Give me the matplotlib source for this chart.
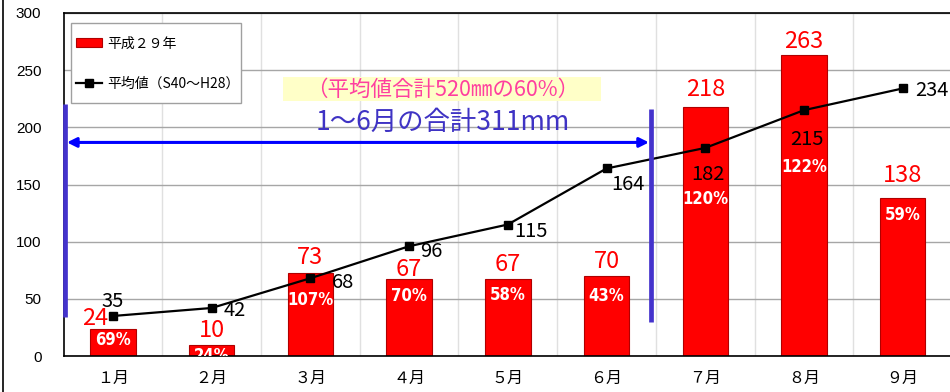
import matplotlib
matplotlib.use("Agg")
import matplotlib.pyplot as plt
from matplotlib import font_manager
from matplotlib.font_manager import FontProperties
from matplotlib.patches import Rectangle
from matplotlib.lines import Line2D
from matplotlib.legend_handler import HandlerPatch
import numpy as np

# ---- data -------------------------------------------------------------
months = ["１月", "２月", "３月", "４月", "５月", "６月", "７月", "８月", "９月"]
rain_h29 = [24, 10, 73, 67, 67, 70, 218, 263, 138]          # 平成29年 (mm)
rain_avg = [35, 42, 68, 96, 115, 164, 182, 215, 234]        # 平均値 S40～H28 (mm)
ratio_labels = ["69%", "24%", "107%", "70%", "58%", "43%", "120%", "122%", "59%"]
yticks = [0, 50, 100, 150, 200, 250, 300]

legend_bar = "平成２９年"
legend_line = "平均値（S40～H28）"
note_total = "1～6月の合計311mm"
note_ratio = "（平均値合計520㎜の60%）"

# ---- label placement (data units) -------------------------------------
bar_label_dx = [-0.18, 0, 0, 0, 0, 0, 0, 0, 0]
bar_label_y = [33, 22, 86, 76, 80, 83, 233, 275, 158]
avg_label_dx = [0.0, 0.23, 0.33, 0.23, 0.23, 0.22, 0.03, 0.03, 0.30]
avg_label_y = [48, 40, 64, 91, 109, 150, 159, 189, 232]
ratio_label_y = [13.6, 0.3, 48.7, 52.2, 53.0, 52.2, 137.3, 165.4, 123.2]

# ---- fonts ------------------------------------------------------------
CJK = ["Noto Sans CJK JP", "DejaVu Sans"]
NUM = ["Liberation Sans", "DejaVu Sans"]
plt.rcParams["font.family"] = CJK


def narrow_bold_font(size):
    """Pick a condensed bold face if one is installed, else a plain bold."""
    best = None
    for f in font_manager.fontManager.ttflist:
        name = f.name.lower()
        stretch = str(f.stretch).lower()
        narrow = ("narrow" in name or "condensed" in name or "condensed" in stretch
                  or "narrow" in f.fname.lower() or "condensed" in f.fname.lower())
        if not narrow:
            continue
        w = f.weight if isinstance(f.weight, int) else (700 if "bold" in str(f.weight) else 400)
        if f.style != "normal":
            continue
        score = abs(w - 700)
        if best is None or score < best[0]:
            best = (score, f.fname)
    if best is not None:
        return FontProperties(fname=best[1], size=size)
    return FontProperties(family=NUM, weight="bold", size=size - 2.5)


RATIO_FONT = narrow_bold_font(12)

RED = "#FF0000"
BLUE_BAR = "#4433CC"
BLUE_ARROW = "#0000FF"
TEXT_BLUE = "#3F33C4"
PINK = "#FF3F9F"

W, H = 950, 392
fig = plt.figure(figsize=(W / 100, H / 100), dpi=100)
ax = fig.add_axes([63.6 / W, 36 / H, 888.4 / W, 343 / H])

x = np.arange(len(months))
bars = ax.bar(x, rain_h29, width=0.46, color=RED, edgecolor="#B00000",
              linewidth=0.8, zorder=2, label=legend_bar)
line, = ax.plot(x, rain_avg, color="black", lw=1.6, marker="s", markersize=6,
                zorder=4, label=legend_line)

ax.set_xlim(-0.5, 8.5)
ax.set_ylim(0, 300)
ax.set_yticks(yticks)
ax.set_yticklabels([str(v) for v in yticks], family=NUM, fontsize=11)
ax.set_xticks(x)
ax.set_xticklabels(months, fontsize=11.5)
ax.set_xticks(np.arange(0.5, len(months) - 0.5, 1), minor=True)
ax.tick_params(which="both", length=0)
ax.tick_params(axis="y", pad=16)
ax.tick_params(axis="x", pad=10)
ax.yaxis.grid(True, color="#A6A6A6", lw=1)
ax.xaxis.grid(True, which="minor", color="#E0E0E0", lw=1)
ax.xaxis.grid(False, which="major")
ax.set_axisbelow(True)
for side in ("left", "bottom", "top"):
    ax.spines[side].set_color("black")
    ax.spines[side].set_linewidth(1.2)
ax.spines["right"].set_visible(False)

# value labels
for i in range(len(months)):
    ax.text(x[i] + bar_label_dx[i], bar_label_y[i], str(rain_h29[i]),
            color=RED, fontsize=17, ha="center", va="center", zorder=6)
    ax.text(x[i] + avg_label_dx[i], avg_label_y[i], str(rain_avg[i]),
            color="black", fontsize=14.5, ha="center", va="center", zorder=6)
    ax.text(x[i], ratio_label_y[i], ratio_labels[i], color="white",
            fontproperties=RATIO_FONT, ha="center", va="center",
            zorder=6, clip_on=True)

# 1～6月 range markers
ax.plot([-0.481, -0.481], [34.2, 220.2], color=BLUE_BAR, lw=3.4,
        solid_capstyle="butt", zorder=5, clip_on=False)
ax.plot([5.448, 5.448], [29.8, 215.8], color=BLUE_BAR, lw=3.4,
        solid_capstyle="butt", zorder=5, clip_on=False)
ax.annotate("", xy=(-0.466, 186.8), xytext=(5.43, 186.8),
            arrowprops=dict(arrowstyle="<|-|>", color=BLUE_ARROW, lw=2.2,
                            mutation_scale=14, shrinkA=0, shrinkB=0),
            zorder=5)
ax.text(3.337, 204, note_total, color=TEXT_BLUE, fontsize=19,
        ha="center", va="center", zorder=6)
ax.add_patch(Rectangle((1.722, 222.8), 3.22, 21.1, facecolor="#FFFFC8",
                       edgecolor="none", zorder=3))
ax.text(3.335, 232.8, note_ratio, color=PINK, fontsize=15.5,
        ha="center", va="center", zorder=6)


# legend
def thin_patch(legend, orig_handle, xdescent, ydescent, width, height, fontsize):
    return Rectangle((-xdescent, -ydescent + height * 0.22), width, height * 0.56)


ax.add_patch(Rectangle((0.0083, 0.738), 0.1915, 0.233, transform=ax.transAxes,
                       facecolor="white", edgecolor="#A0A0A0", lw=1, zorder=7))
leg = ax.legend([bars, line], [legend_bar, legend_line],
                loc="upper left", bbox_to_anchor=(0.014, 0.932), frameon=False,
                borderpad=0, borderaxespad=0, handlelength=1.85, handletextpad=0.4,
                labelspacing=1.9, fontsize=10,
                handler_map={type(bars.patches[0]): HandlerPatch(patch_func=thin_patch)})
leg.set_zorder(8)

# outer border on the left
fig.add_artist(Line2D([3 / W, 3 / W], [0, 1], color="black", lw=1.2))

fig.savefig("out.png", dpi=100)
